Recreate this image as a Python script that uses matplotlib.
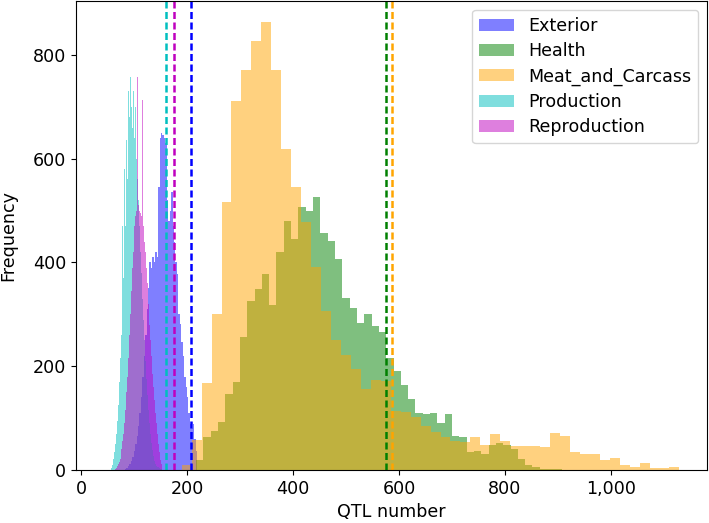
import numpy as np
import matplotlib
matplotlib.use("Agg")
import matplotlib.pyplot as plt
from matplotlib.ticker import FuncFormatter

# histogram counts per bin (50 bins each)
exterior_counts = [2, 4, 7, 12, 18, 26, 36, 50, 66, 85,
                   110, 140, 180, 220, 260, 310, 350, 400, 390, 410,
                   400, 420, 410, 546, 640, 650, 645, 640, 630, 520,
                   480, 500, 536, 470, 440, 400, 378, 300, 282, 246,
                   220, 179, 160, 140, 110, 89, 80, 89, 60, 37]
health_counts = [20, 63, 76, 92, 147, 169, 256, 325, 348, 378,
                 318, 420, 479, 445, 507, 499, 526, 456, 441, 406,
                 332, 313, 284, 301, 277, 266, 216, 190, 163, 137,
                 109, 108, 110, 90, 107, 65, 63, 35, 36, 30,
                 49, 53, 49, 40, 21, 10, 5, 2, 1, 1]
meat_counts = [10, 57, 167, 300, 516, 711, 771, 827, 863, 771,
               618, 545, 478, 392, 307, 250, 221, 195, 156, 174,
               172, 114, 111, 102, 85, 73, 63, 56, 54, 63,
               48, 69, 55, 47, 47, 46, 45, 71, 66, 34,
               30, 31, 19, 24, 10, 5, 13, 4, 4, 6]
production_counts = [3, 10, 22, 35, 50, 70, 95, 125, 170, 215,
                     260, 470, 370, 580, 470, 636, 560, 730, 680, 758,
                     700, 660, 730, 640, 700, 600, 560, 520, 470, 420,
                     380, 330, 290, 250, 210, 175, 145, 115, 90, 70,
                     52, 38, 27, 18, 12, 8, 5, 3, 2, 1]
reproduction_counts = [2, 4, 7, 11, 16, 22, 30, 40, 55, 70,
                       90, 115, 150, 180, 215, 260, 300, 345, 390, 420,
                       450, 470, 490, 500, 757, 510, 500, 495, 490, 713,
                       470, 440, 420, 390, 360, 457, 320, 280, 250, 220,
                       185, 160, 135, 110, 90, 70, 50, 35, 20, 12]

# value range covered by each histogram
exterior_range = (83, 219)
health_range = (217, 907)
meat_range = (190, 1129)
production_range = (56, 152)
reproduction_range = (64, 152)

# observed values (dashed lines)
observed = {"Exterior": 207, "Health": 575, "Meat_and_Carcass": 586,
            "Production": 160, "Reproduction": 176}

names = ["Exterior", "Health", "Meat_and_Carcass", "Production", "Reproduction"]
colors = ["blue", "green", "orange", "c", "m"]
counts = [exterior_counts, health_counts, meat_counts, production_counts, reproduction_counts]
ranges = [exterior_range, health_range, meat_range, production_range, reproduction_range]

plt.rcParams["font.size"] = 12.6
fig = plt.figure(figsize=(7.09, 5.23), dpi=100)
ax = fig.add_axes([76 / 709, 53 / 523, 631 / 709, 469 / 523])

for name, col, cnt, rng in zip(names, colors, counts, ranges):
    edges = np.linspace(rng[0], rng[1], len(cnt) + 1)
    ax.stairs(cnt, edges, fill=True, color=col, alpha=0.5, label=name, linewidth=0)

for name, col in zip(names, colors):
    ax.axvline(observed[name], color=col, linestyle=(0, (2.8, 1.4)), linewidth=1.8)

ax.set_xlim(-9.4, 1181)
ax.set_ylim(0, 904)
ax.set_xticks([0, 200, 400, 600, 800, 1000])
ax.set_yticks([0, 200, 400, 600, 800])
ax.xaxis.set_major_formatter(FuncFormatter(lambda v, p: "{:,.0f}".format(v)))
ax.set_xlabel("QTL number")
ax.set_ylabel("Frequency", labelpad=11)
ax.legend(loc="upper right", labelspacing=0.42)

fig.savefig("out.png", dpi=100)
